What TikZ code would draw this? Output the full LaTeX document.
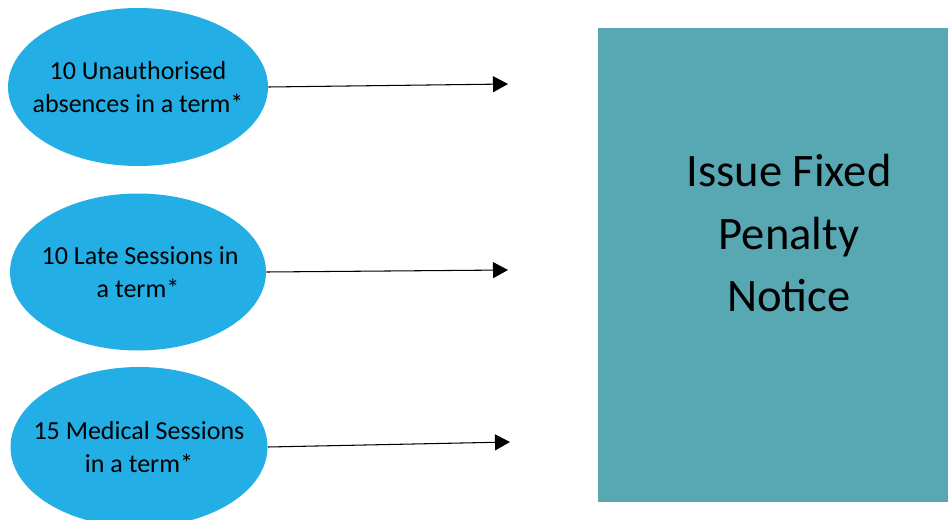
\documentclass[tikz,border=0pt]{standalone}
\usepackage{fontspec}
\setmainfont{Carlito}
\usetikzlibrary{arrows.meta,positioning,shapes.geometric}
\definecolor{ovalblue}{RGB}{35,175,230}
\definecolor{boxteal}{RGB}{88,168,179}

\begin{document}
\begin{tikzpicture}[
    every node/.style={font=\fontsize{14.8}{18.7}\selectfont},
    cause/.style={ellipse, fill=ovalblue, inner xsep=-0.35cm, inner ysep=0pt, align=center},
    arrow/.style={-{Triangle[length=3mm, width=3.2mm]}, line width=0.6pt},
    outcome/.style={rectangle, fill=boxteal, minimum width=7cm, minimum height=9.48cm, inner sep=0pt}
]
\useasboundingbox (0,0) rectangle (18.96,10.38);
\clip (0,0) rectangle (18.96,10.38);

% Left column: the three triggers
\node[cause, minimum width=5.2cm, minimum height=3.16cm] (absence) at (2.76,8.64)
    {10 Unauthorised\\absences in a term*};
\node[cause, minimum width=5.12cm, minimum height=3.14cm] (late) at (2.76,4.94)
    {\,10 Late Sessions in\\a term*};
\node[cause, minimum width=5.14cm, minimum height=3.2cm] (medical) at (2.78,1.44)
    {15 Medical Sessions\\in a term*};

% Arrow tips
\coordinate (tipabsence) at (10.16,8.70);
\coordinate (tiplate) at (10.16,4.98);
\coordinate (tipmedical) at (10.2,1.54);

\draw[arrow] (absence.east) -- (tipabsence);
\draw[arrow] (late.east) -- (tiplate);
\draw[arrow] (medical.east) -- (tipmedical);

% Right: the outcome
\node[outcome] (notice) at (15.46,5.08) {};
\node[font=\fontsize{26.5}{35.7}\selectfont, align=center] (noticetext) at (15.78,5.72)
    {Issue Fixed\\Penalty\\Notice};

\end{tikzpicture}
\end{document}
